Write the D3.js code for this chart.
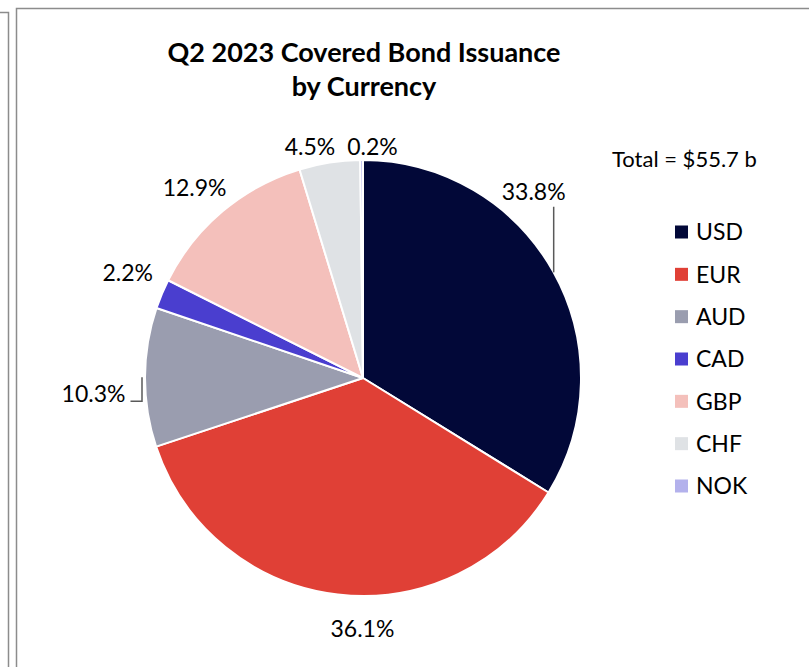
<!DOCTYPE html>
<html><head><meta charset="utf-8">
<script src="https://cdn.jsdelivr.net/npm/d3@7"></script>
<style>html,body{margin:0;padding:0;background:#fff;}svg{display:block;}</style>
</head><body>
<svg id="chart" width="809" height="667"></svg>
<script>
const categories = ["USD","EUR","AUD","CAD","GBP","CHF","NOK"];
const shares = [33.8, 36.1, 10.3, 2.2, 12.9, 4.5, 0.2];
const colors = ["#020838","#e04036","#9a9daf","#4a3ecf","#f4c0bb","#dfe2e5","#b3b1ec"];
const labelTexts = ["33.8%","36.1%","10.3%","2.2%","12.9%","4.5%","0.2%"];
const titleLines = ["Q2 2023 Covered Bond Issuance","by Currency"];
const totalText = "Total = $55.7 b";
// label nudges from default outside position (Excel-style manual placement)
const labelNudge = [[-52,-62],[29,-3],[-14.5,17],[0,-7],[-4,5],[-14,21],[11,24]];

const svg = d3.select("#chart");
const font = "Lato, 'Open Sans', sans-serif";

// frames
svg.append("path").attr("d","M0,12.5 H8.5 V667").attr("fill","none").attr("stroke","#8c8c8c").attr("stroke-width",1.5);
svg.append("path").attr("d","M809,8.5 H16.5 V667").attr("fill","none").attr("stroke","#8c8c8c").attr("stroke-width",1.5);

const cx = 363, cy = 378, r = 218;
const g = svg.append("g").attr("transform",`translate(${cx},${cy})`);
const pie = d3.pie().sort(null).value(d=>d);
const arcs = pie(shares);
const arc = d3.arc().innerRadius(0).outerRadius(r);

g.selectAll("path.slice").data(arcs).enter().append("path")
  .attr("class","slice").attr("d",arc)
  .attr("fill",(d,i)=>colors[i]).attr("stroke","#fff").attr("stroke-width",2).attr("stroke-linejoin","round");

const labelArc = d3.arc().innerRadius(255).outerRadius(255);
const lp = arcs.map((d,i)=>{const c = labelArc.centroid(d); return [c[0]+labelNudge[i][0], c[1]+labelNudge[i][1]];});

g.selectAll("text.lbl").data(arcs).enter().append("text")
  .attr("class","lbl")
  .attr("x",(d,i)=>lp[i][0]).attr("y",(d,i)=>lp[i][1])
  .attr("dy","0.36em").attr("text-anchor","middle")
  .attr("font-family",font).attr("font-size",23).attr("fill","#000")
  .text((d,i)=>labelTexts[i]);

// leader lines
{
  const lx = lp[0][0] + 20;
  const y1 = lp[0][1] + 15;
  const y2 = -Math.sqrt(r*r - lx*lx);
  g.append("line").attr("x1",lx).attr("x2",lx).attr("y1",y1).attr("y2",y2)
    .attr("stroke","#595959").attr("stroke-width",1.5);
  const a = (arcs[2].startAngle + arcs[2].endAngle)/2;
  const ex = Math.sin(a)*(r+3), ey = -Math.cos(a)*(r+3);
  const sy = lp[2][1] + 7;
  g.append("path").attr("d",`M${lp[2][0]+37},${sy} H${ex} V${ey}`)
    .attr("fill","none").attr("stroke","#595959").attr("stroke-width",1.5);
}

// title
svg.append("text").attr("x",364).attr("y",62).attr("text-anchor","middle")
  .attr("font-family",font).attr("font-weight","bold").attr("font-size",27).attr("fill","#000")
  .text(titleLines[0]);
svg.append("text").attr("x",364).attr("y",96).attr("text-anchor","middle")
  .attr("font-family",font).attr("font-weight","bold").attr("font-size",27).attr("fill","#000")
  .text(titleLines[1]);

svg.append("text").attr("x",612).attr("y",167)
  .attr("font-family",font).attr("font-size",22).attr("fill","#000").text(totalText);

// legend
const legY = d3.scalePoint().domain(categories).range([232,486]);
const leg = svg.append("g");
const items = leg.selectAll("g").data(categories).enter().append("g")
  .attr("transform",d=>`translate(675,${legY(d)})`);
items.append("rect").attr("x",0).attr("y",-6.5).attr("width",13).attr("height",13)
  .attr("fill",(d,i)=>colors[i]);
items.append("text").attr("x",21).attr("dy","0.36em")
  .attr("font-family",font).attr("font-size",23).attr("fill","#000").text(d=>d);
</script>
</body></html>
